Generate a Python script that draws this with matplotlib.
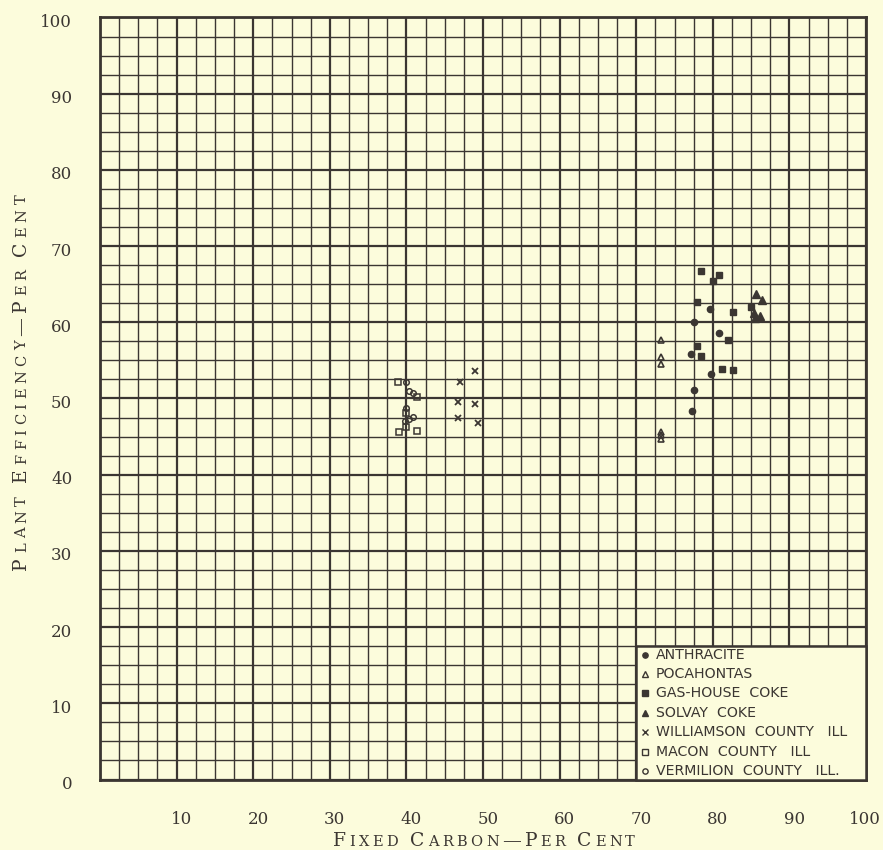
import numpy as np
import matplotlib
matplotlib.use("Agg")
import matplotlib.pyplot as plt
from matplotlib.patches import Rectangle
from matplotlib.transforms import IdentityTransform, ScaledTranslation

# data (fixed carbon %, plant efficiency %)
anthracite_x = [79.6, 77.5, 80.8, 77.2, 79.7, 77.6, 77.3]
anthracite_y = [61.7, 60.0, 58.6, 55.8, 53.2, 51.1, 48.4]

pocahontas_x = [73.3, 73.3, 73.3, 73.3, 73.3, 73.3]
pocahontas_y = [57.7, 55.4, 54.5, 45.6, 45.2, 44.7]

gas_coke_x = [78.5, 80.8, 80.0, 77.9, 82.6, 85.0, 82.0, 78.0, 78.5, 81.2, 82.6]
gas_coke_y = [66.7, 66.2, 65.4, 62.7, 61.4, 62.0, 57.7, 56.9, 55.6, 53.9, 53.8]

solvay_x = [85.6, 86.4, 85.4, 85.5, 86.1]
solvay_y = [63.7, 62.9, 61.2, 60.6, 60.8]

williamson_x = [48.9, 47.0, 46.8, 48.9, 46.8, 49.4]
williamson_y = [53.6, 52.2, 49.6, 49.3, 47.4, 46.8]

macon_x = [38.9, 41.4, 39.9, 39.9, 39.0, 41.4]
macon_y = [52.2, 50.2, 48.1, 46.2, 45.6, 45.8]

vermilion_x = [39.9, 40.3, 40.9, 39.9, 39.8, 40.4, 40.9]
vermilion_y = [52.1, 51.0, 50.7, 48.8, 47.0, 47.3, 47.6]

x_ticks = [10, 20, 30, 40, 50, 60, 70, 80, 90, 100]
y_ticks = [0, 10, 20, 30, 40, 50, 60, 70, 80, 90, 100]

paper = '#fcfcdc'
ink = '#3b3632'

fig = plt.figure(figsize=(8.83, 8.5), dpi=100, facecolor=paper)
ax = fig.add_axes([100 / 883, 70.5 / 850, 766 / 883, 762 / 850])
ax.set_facecolor(paper)
ax.set_xlim(0, 100)
ax.set_ylim(0, 100)

ax.set_xticks(np.arange(0, 101, 2.5), minor=True)
ax.set_yticks(np.arange(0, 101, 2.5), minor=True)
ax.set_xticks([0] + x_ticks)
ax.set_xticklabels([''] + [str(v) for v in x_ticks])
ax.set_yticks(y_ticks)
ax.grid(which='major', color=ink, lw=1.6)
ax.grid(which='minor', color=ink, lw=1.0)
ax.tick_params(which='both', length=0)
ax.tick_params(axis='x', pad=23)
ax.tick_params(axis='y', pad=20)
for lab in ax.get_xticklabels() + ax.get_yticklabels():
    lab.set_fontfamily('DejaVu Serif')
    lab.set_fontsize(12)
    lab.set_color(ink)
for lab in ax.get_xticklabels()[1:-1]:
    lab.set_transform(lab.get_transform() + ScaledTranslation(5 / 100, 0, fig.dpi_scale_trans))
ax.get_xticklabels()[-1].set_transform(
    ax.get_xticklabels()[-1].get_transform() + ScaledTranslation(-1 / 100, 0, fig.dpi_scale_trans))
for lab in ax.get_yticklabels():
    lab.set_transform(lab.get_transform() + ScaledTranslation(0, -3 / 100, fig.dpi_scale_trans))
for s in ax.spines.values():
    s.set_color(ink)
    s.set_linewidth(2)
ax.set_axisbelow(True)

kw = dict(ls='none', color=ink, zorder=3)
ax.plot(anthracite_x, anthracite_y, marker='o', ms=4.5, **kw)
ax.plot(pocahontas_x, pocahontas_y, marker='^', ms=5, mfc='none', mew=1.2, **kw)
ax.plot(gas_coke_x, gas_coke_y, marker='s', ms=5, **kw)
ax.plot(solvay_x, solvay_y, marker='^', ms=5.5, **kw)
ax.plot(williamson_x, williamson_y, marker='x', ms=4.5, mew=1.3, **kw)
ax.plot(macon_x, macon_y, marker='s', ms=4, mfc='none', mew=1.1, **kw)
ax.plot(vermilion_x, vermilion_y, marker='o', ms=4, mfc='none', mew=1.1, **kw)

# legend box drawn over the grid, lower right
legend_items = [
    ('o', True, 'ANTHRACITE'),
    ('^', False, 'POCAHONTAS'),
    ('s', True, 'GAS-HOUSE  COKE'),
    ('^', True, 'SOLVAY  COKE'),
    ('x', True, 'WILLIAMSON  COUNTY   ILL'),
    ('s', False, 'MACON  COUNTY   ILL'),
    ('o', False, 'VERMILION  COUNTY   ILL.'),
]
ax.add_patch(Rectangle((70, 0), 30, 17.5, facecolor=paper, edgecolor=ink,
                       lw=1.8, zorder=4, clip_on=False))
for i, (m, filled, text) in enumerate(legend_items):
    yy = 16.4 - i * 2.55
    ax.plot([71.1], [yy], marker=m, ms=3.8, color=ink, ls='none', zorder=5,
            mfc=ink if filled else 'none', mew=1.0)
    ax.text(72.6, yy, text, fontsize=10.2, family='DejaVu Sans', color=ink,
            va='center', ha='left', zorder=5)


# small-caps axis titles, placed letter by letter in pixels
def small_caps(text, x0, y0, big, small, width, rotation=0):
    r = fig.canvas.get_renderer()
    pieces = []
    start = True
    for ch in text:
        if ch == ' ':
            pieces.append((None, big * 100 / 72 * 0.25))
            start = True
            continue
        size = big if start or ch == '\u2014' else small
        start = ch == '\u2014'
        t = fig.text(0, 0, ch, fontsize=size, family='DejaVu Serif', color=ink,
                     rotation=rotation, rotation_mode='anchor',
                     ha='left', va='baseline', transform=IdentityTransform())
        bb = t.get_window_extent(r)
        pieces.append((t, bb.height if rotation else bb.width))
    natural = sum(w for _, w in pieces)
    track = max((width - natural) / (len(pieces) - 1), 0)
    pos = -width / 2
    for t, w in pieces:
        if t is not None:
            if rotation:
                t.set_position((x0, y0 + pos))
            else:
                t.set_position((x0 + pos, y0))
        pos += w + track


small_caps('FIXED CARBON\u2014PER CENT', 484, 4, 13.5, 10.5, 302)
small_caps('PLANT EFFICIENCY\u2014PER CENT', 26, 468, 13.5, 10.5, 375, rotation=90)

fig.savefig('out.png', dpi=100, facecolor=paper)
